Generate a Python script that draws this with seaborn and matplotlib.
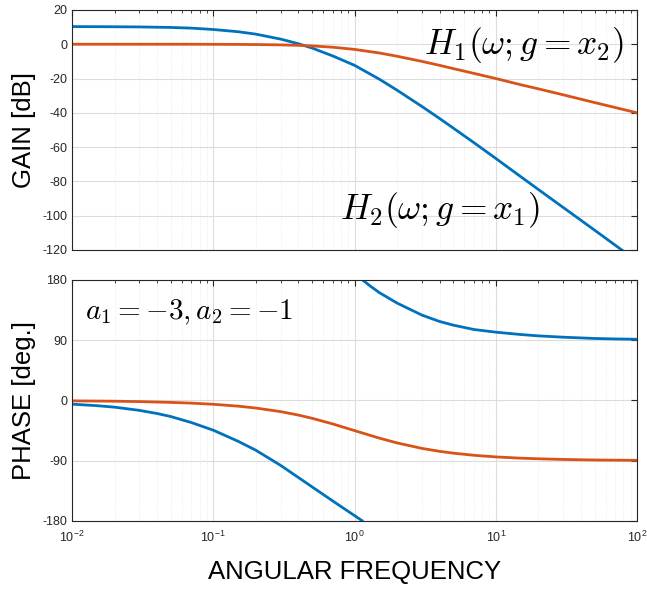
import matplotlib
matplotlib.use("Agg")
import matplotlib.pyplot as plt
import seaborn as sns
import pandas as pd
import numpy as np

# fréquences angulaires échantillonnées (lecture sur la figure)
freq = [0.01, 0.02, 0.03, 0.05, 0.07, 0.1, 0.15, 0.2, 0.3, 0.4, 0.5, 0.7,
        1, 1.5, 2, 3, 4, 5, 7, 10, 15, 20, 30, 50, 70, 100]

# H1 (orange)
h1_gain = [0.0, 0.0, 0.0, 0.0, 0.0, -0.04, -0.1, -0.17, -0.37, -0.64, -0.97, -1.73,
           -3.0, -5.1, -7.0, -10.0, -12.3, -14.2, -17.0, -20.0, -23.6, -26.0, -29.5, -34.0, -36.9, -40.0]
h1_phase = [-0.6, -1.1, -1.7, -2.9, -4.0, -5.7, -8.5, -11.3, -16.7, -21.8, -26.6, -35.0,
            -45.0, -56.3, -63.4, -71.6, -76.0, -78.7, -81.9, -84.3, -86.2, -87.1, -88.1, -88.9, -89.2, -89.4]

# H2 (bleu)
h2_gain = [10.3, 10.2, 10.1, 9.8, 9.4, 8.6, 7.3, 5.9, 3.0, 0.3, -2.2, -6.8,
           -12.3, -20.4, -26.8, -36.3, -43.3, -48.9, -57.4, -66.6, -77.2, -84.7, -95.2, -108.4, -117.2, -126.5]

# phase de H2 : deux branches (saut de -180 à +180)
h2_freq_low = [0.01, 0.015, 0.02, 0.03, 0.04, 0.05, 0.07, 0.1, 0.15, 0.2, 0.3, 0.4, 0.5,
               0.7, 0.85, 1.0, 1.14]
h2_phase_low = [-5.5, -7.8, -10.0, -14.8, -19.5, -24.0, -33.0, -44.4, -61.0, -74.3, -97.0,
                -115.0, -129.0, -150.0, -162.0, -172.0, -180.0]
h2_freq_high = [1.14, 1.3, 1.5, 2, 3, 4, 5, 7, 10, 15, 20, 30, 50, 70, 100]
h2_phase_high = [180.0, 170.5, 161.0, 145.5, 127.5, 118.0, 112.5, 106.0, 102.0, 98.5, 96.5, 94.5, 92.6, 91.9, 91.4]

BLEU = "#0072BD"
ORANGE = "#D95319"
GRIS = "#262626"

sns.set_theme(style="white")
plt.rcParams["font.family"] = ["Liberation Sans", "DejaVu Sans"]
plt.rcParams["mathtext.fontset"] = "cm"
plt.rcParams["axes.unicode_minus"] = False

gain_df = pd.DataFrame({"freq": freq, "h1": h1_gain, "h2": h2_gain})
phase_df = pd.DataFrame({"freq": freq, "h1": h1_phase})
low_df = pd.DataFrame({"freq": h2_freq_low, "phase": h2_phase_low})
high_df = pd.DataFrame({"freq": h2_freq_high, "phase": h2_phase_high})

fig = plt.figure(figsize=(6.47, 5.89), dpi=100)
ax1 = fig.add_axes([0.1113, 0.5756, 0.8733, 0.4075])
ax2 = fig.add_axes([0.1113, 0.1155, 0.8733, 0.4092])

for ax in (ax1, ax2):
    ax.set_xscale("log")

sns.lineplot(data=gain_df, x="freq", y="h2", color=BLEU, lw=2, ax=ax1)
sns.lineplot(data=gain_df, x="freq", y="h1", color=ORANGE, lw=2, ax=ax1)

sns.lineplot(data=low_df, x="freq", y="phase", color=BLEU, lw=2, ax=ax2)
sns.lineplot(data=high_df, x="freq", y="phase", color=BLEU, lw=2, ax=ax2)
sns.lineplot(data=phase_df, x="freq", y="h1", color=ORANGE, lw=2, ax=ax2)

for ax in (ax1, ax2):
    ax.set_xlim(1e-2, 1e2)
    ax.grid(True, which="major", color="#dcdcdc", lw=0.8)
    ax.grid(True, which="minor", axis="x", color="#e6e6e6", lw=0.6, ls=":")
    ax.tick_params(which="both", direction="in", top=True, right=True,
                   colors=GRIS, labelsize=9)
    ax.tick_params(which="major", length=4, width=0.8)
    ax.tick_params(which="minor", length=2.5, width=0.6)
    ax.tick_params(axis="x", pad=6)
    for s in ax.spines.values():
        s.set_color(GRIS)
        s.set_linewidth(0.8)

ax1.set_ylim(-120, 20)
ax1.set_yticks(np.arange(-120, 21, 20))
ax1.tick_params(labelbottom=False)
ax1.set_xlabel("")
ax1.set_ylabel("GAIN [dB]", fontsize=18.5, color="black")
ax1.yaxis.set_label_coords(-0.064, 0.5)

ax2.set_ylim(-180, 180)
ax2.set_yticks([-180, -90, 0, 90, 180])
ax2.set_ylabel("PHASE [deg.]", fontsize=18.5, color="black")
ax2.yaxis.set_label_coords(-0.064, 0.5)
ax2.set_xlabel("ANGULAR FREQUENCY", fontsize=18.5, color="black")
ax2.xaxis.set_label_coords(0.5, -0.163)

ax1.text(0.8, 0.854, r"$H_1(\omega; g = x_2)$", transform=ax1.transAxes,
         fontsize=25.5, ha="center", va="center", color="black")
ax1.text(0.651, 0.167, r"$H_2(\omega; g = x_1)$", transform=ax1.transAxes,
         fontsize=25.5, ha="center", va="center", color="black")
ax2.text(0.207, 0.867, r"$a_1 = -3, a_2 = -1$", transform=ax2.transAxes,
         fontsize=21, ha="center", va="center", color="black")

plt.savefig("out.png", dpi=100)
plt.close()
